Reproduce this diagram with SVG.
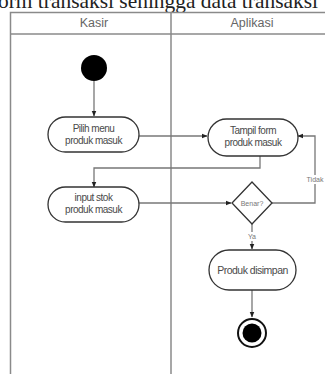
<svg xmlns="http://www.w3.org/2000/svg" width="325" height="374" viewBox="0 0 325 374">
<defs>
<style>
.lane{fill:none;stroke:#8a8a8a;stroke-width:1.5}
.hdr{font-family:"Liberation Sans",Arial,sans-serif;font-size:12.5px;fill:#666;text-anchor:middle}
.node{fill:#fff;stroke:#333;stroke-width:1.3}
.lbl{font-family:"Liberation Sans",Arial,sans-serif;font-size:10px;fill:#4a4a4a;text-anchor:middle;letter-spacing:-0.5px}
.edge{fill:none;stroke:#777;stroke-width:1.3}
.elbl{font-family:"Liberation Sans",Arial,sans-serif;font-size:7px;fill:#777;text-anchor:middle}
</style>
<marker id="arr" viewBox="0 0 10 10" refX="9" refY="5" markerWidth="6" markerHeight="6" orient="auto" markerUnits="userSpaceOnUse">
<path d="M0,1 L10,5 L0,9 z" fill="#222"/>
</marker>
</defs>
<rect width="325" height="374" fill="#fff"/>
<text x="-2" y="8" font-family="'Liberation Serif','Times New Roman',serif" font-size="21" fill="#222" textLength="320" lengthAdjust="spacingAndGlyphs">orm transaksi sehingga data transaksi</text>
<g id="swimlanes">
<path class="lane" d="M10.5,374 V12.5 H334 M171,12.5 V374 M10.5,34 H334"/>
<text class="hdr" x="94" y="27">Kasir</text>
<text class="hdr" x="252" y="27">Aplikasi</text>
</g>
<g id="connectors">
<path class="edge" d="M94,81 V116" marker-end="url(#arr)"/>
<path class="edge" d="M139,136 H207" marker-end="url(#arr)"/>
<path class="edge" d="M260,156 V168 H94 V187" marker-end="url(#arr)"/>
<path class="edge" d="M139,203 H231" marker-end="url(#arr)"/>
<path class="edge" d="M272,203 H315 V136 H298" marker-end="url(#arr)"/>
<rect x="304" y="175" width="22" height="9" fill="#fff"/>
<text class="elbl" x="315" y="182">Tidak</text>
<path class="edge" d="M252,224 V249" marker-end="url(#arr)"/>
<rect x="246" y="232" width="12" height="9" fill="#fff"/>
<text class="elbl" x="252" y="239">Ya</text>
<path class="edge" d="M252,290 V317" marker-end="url(#arr)"/>
</g>
<g id="start"><circle cx="94" cy="68" r="13" fill="#000"/></g>
<g id="pilih">
<rect class="node" x="48" y="117" width="91" height="35" rx="17.5"/>
<text class="lbl" x="93.5" y="132">Pilih menu</text>
<text class="lbl" x="93.5" y="144">produk masuk</text>
</g>
<g id="tampil">
<rect class="node" x="208" y="119" width="90" height="37" rx="18.5"/>
<text class="lbl" x="253" y="134">Tampil form</text>
<text class="lbl" x="253" y="146">produk masuk</text>
</g>
<g id="input">
<rect class="node" x="48" y="187" width="91" height="35" rx="17.5"/>
<text class="lbl" x="93.5" y="201">input stok</text>
<text class="lbl" x="93.5" y="213">produk masuk</text>
</g>
<g id="benar">
<path class="node" d="M252,182 L272,203 L252,224 L232,203 Z"/>
<text class="elbl" x="252" y="205.5">Benar?</text>
</g>
<g id="simpan">
<rect class="node" x="209" y="250" width="87" height="40" rx="20"/>
<text class="lbl" x="252.5" y="273.5" style="font-size:10.5px">Produk disimpan</text>
</g>
<g id="end">
<circle cx="252" cy="333" r="14" fill="#fff" stroke="#111" stroke-width="2"/>
<circle cx="252" cy="333" r="9.5" fill="#000"/>
</g>
</svg>
